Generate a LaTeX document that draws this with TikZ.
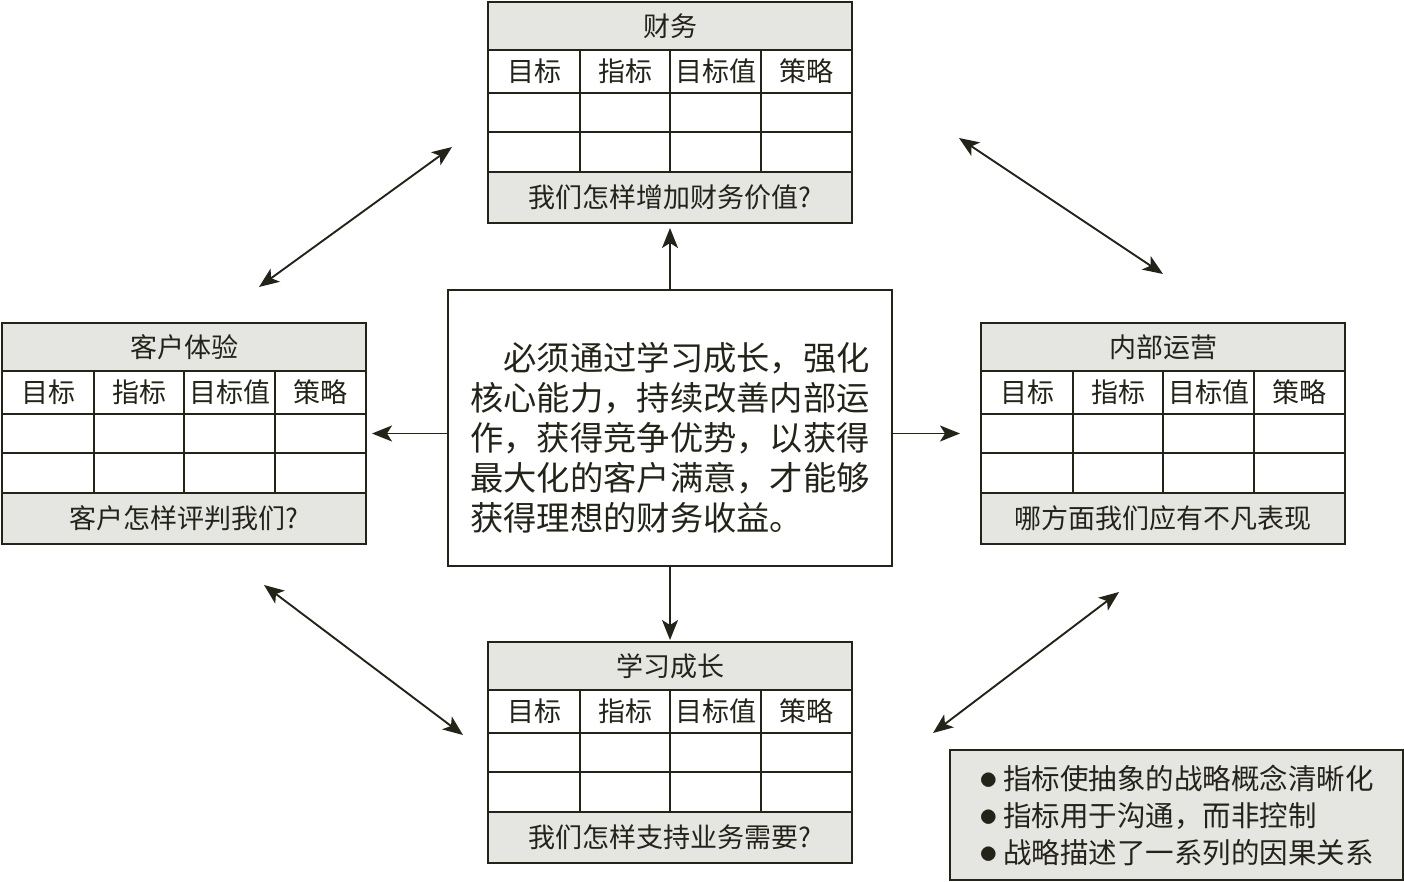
\documentclass[tikz,border=0pt]{standalone}
\usepackage{fontspec}
\setmainfont{Noto Sans CJK SC}
\usetikzlibrary{arrows.meta,positioning}
\definecolor{inkline}{RGB}{35,35,26}
\definecolor{bandgray}{RGB}{229,229,226}
\newcommand{\notedot}{\scalebox{1.5}{$\bullet$}\hspace{5pt}}

\begin{document}
\begin{tikzpicture}[x=1pt, y=-1pt, >={Stealth[length=20pt,width=16pt,inset=5pt]},
  cell/.style={draw=inkline, line width=2.2pt, fill=white, inner sep=0pt, outer sep=0pt, text=inkline, font=\fontsize{27}{32}\selectfont},
  band/.style={cell, fill=bandgray, minimum width=364pt},
  link/.style={draw=inkline, line width=1.9pt}]
\useasboundingbox (0,0) rectangle (1404,882);

% four tables
\foreach \tab/\tabx/\taby/\ttitle/\tfoot in {fin/488/2/财务/我们怎样增加财务价值?, cust/2/323/客户体验/客户怎样评判我们?, ops/981/323/内部运营/哪方面我们应有不凡表现, learn/488/642/学习成长/我们怎样支持业务需要?}{
  \node[anchor=north west, minimum width=364pt, minimum height=221pt, inner sep=0pt, outer sep=0pt] (\tab) at (\tabx,\taby) {};
  \node[band, minimum height=48pt, anchor=north west] (\tab-t) at (\tab.north west) {\ttitle};
  \foreach \xo/\w/\lab [count=\i] in {0/92/目标, 92/90/指标, 182/91/目标值, 273/91/策略}{
    \node[cell, minimum width=\w pt, minimum height=43pt, anchor=north west] (\tab-h\i) at ([xshift=\xo pt]\tab-t.south west) {\lab};
    \node[cell, minimum width=\w pt, minimum height=39pt, below=0pt of \tab-h\i] (\tab-a\i) {};
    \node[cell, minimum width=\w pt, minimum height=40pt, below=0pt of \tab-a\i] (\tab-b\i) {};
  }
  \node[band, minimum height=51pt, anchor=north west] (\tab-f) at (\tab-b1.south west) {\tfoot};
}

% centre
\node[draw=inkline, line width=2.2pt, minimum width=444pt, minimum height=276pt, inner sep=0pt, outer sep=0pt] (core) at (670,428) {};
\node[align=left, text=inkline, font=\fontsize{33.3}{40}\selectfont] (coretext) at ([yshift=-10pt]core.center)
  {\hspace*{1em}必须通过学习成长，强化\\核心能力，持续改善内部运\\作，获得竞争优势，以获得\\最大化的客户满意，才能够\\获得理想的财务收益。};

% notes
\node[draw=inkline, line width=2.2pt, fill=bandgray, minimum width=453pt, minimum height=130pt, align=left, text=inkline, font=\fontsize{28.5}{37}\selectfont] (notes) at (1176.5,815)
  {\notedot 指标使抽象的战略概念清晰化\\\notedot 指标用于沟通，而非控制\\\notedot 战略描述了一系列的因果关系};

\draw[link, ->, shorten >=5pt] (core.north) -- (fin.south);
\draw[link, ->, shorten >=2pt] (core.south) -- (learn.north);
\draw[link, ->, shorten >=6pt] (core.west |- cust.east) -- (cust.east);
\draw[link, ->, shorten >=21pt] (core.east |- ops.west) -- (ops.west);

\coordinate (cf-s) at (259,287);
\coordinate (cf-e) at (452,147);
\coordinate (fo-s) at (959,138);
\coordinate (fo-e) at (1163,274);
\coordinate (cl-s) at (264,585);
\coordinate (cl-e) at (463,735);
\coordinate (ol-s) at (1119,592);
\coordinate (ol-e) at (933,733);
\draw[link, <->] (cf-s) -- (cf-e);
\draw[link, <->] (fo-s) -- (fo-e);
\draw[link, <->] (cl-s) -- (cl-e);
\draw[link, <->] (ol-s) -- (ol-e);
    %
\end{tikzpicture}
\end{document}
